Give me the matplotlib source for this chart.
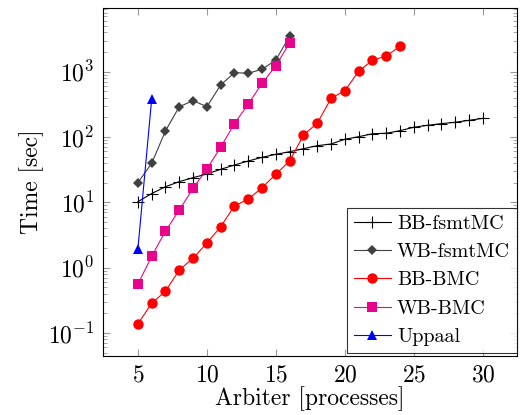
import matplotlib
matplotlib.use("Agg")
import matplotlib.pyplot as plt
from matplotlib.ticker import LogLocator, FixedLocator

plt.rcParams['font.family'] = 'serif'
plt.rcParams['font.serif'] = ['cmr10']
plt.rcParams['mathtext.fontset'] = 'cm'
plt.rcParams['axes.formatter.use_mathtext'] = True

# Data
bb_fsmt_x = list(range(5, 31))
bb_fsmt_y = [10.2, 13.6, 17.3, 20.7, 23.8, 27.1, 32.0, 37.2, 42.9, 48.8, 54.3, 59.5, 66.2,
             73.6, 78.1, 92.2, 101, 112, 114, 125, 141, 151, 160, 168, 180, 193]
wb_fsmt_x = list(range(5, 17))
wb_fsmt_y = [20, 39.5, 124, 291, 360, 291, 626, 966, 946, 1089, 1510, 3520]
bb_bmc_x = list(range(5, 25))
bb_bmc_y = [0.137, 0.284, 0.434, 0.92, 1.39, 2.38, 4.23, 8.8, 11.2, 16.7, 27, 43, 107, 163,
            390, 513, 1014, 1500, 1740, 2450]
wb_bmc_x = list(range(5, 17))
wb_bmc_y = [0.555, 1.49, 3.63, 7.6, 16.4, 32.3, 70, 160, 320, 664, 1236, 2780]
uppaal_x = [5, 6]
uppaal_y = [1.93, 382]

xticks = [5, 10, 15, 20, 25, 30]

fig = plt.figure(figsize=(5.27, 4.15), dpi=100)
ax = fig.add_axes([0.1954, 0.1422, 0.7856, 0.8385])

magenta = '#e8058c'
ax.plot(bb_fsmt_x, bb_fsmt_y, color='black', lw=0.8, marker='+', ms=8, mew=0.8, label='BB-fsmtMC')
ax.plot(wb_fsmt_x, wb_fsmt_y, color='#404040', lw=0.8, marker='D', ms=5, mew=0, label='WB-fsmtMC')
ax.plot(bb_bmc_x, bb_bmc_y, color='red', lw=0.8, marker='o', ms=7.5, mew=0, label='BB-BMC')
ax.plot(wb_bmc_x, wb_bmc_y, color=magenta, lw=0.8, marker='s', ms=7, mew=0, label='WB-BMC')
ax.plot(uppaal_x, uppaal_y, color='blue', lw=0.8, marker='^', ms=6.5, mew=0, label='Uppaal')

ax.set_yscale('log')
ax.set_xlim(2.47, 32.47)
ax.set_ylim(10**-1.354, 10**3.975)
ax.xaxis.set_major_locator(FixedLocator(xticks))
ax.yaxis.set_major_locator(LogLocator(base=10, numticks=20))
ax.yaxis.set_minor_locator(LogLocator(base=10, subs=range(2, 10), numticks=20))
ax.yaxis.set_minor_formatter(plt.NullFormatter())

ax.tick_params(which='both', direction='in', top=True, right=True, color='#999999')
ax.tick_params(which='major', length=5, width=0.8, labelsize=17, pad=6)
ax.tick_params(which='minor', length=3, width=0.6)
for s in ax.spines.values():
    s.set_linewidth(0.8)

ax.set_xlabel('Arbiter [processes]', fontsize=17, labelpad=0)
ax.set_ylabel('Time [sec]', fontsize=17, labelpad=3)

leg = ax.legend(loc='lower right', bbox_to_anchor=(1.0, 0.009), fontsize=14.5, frameon=True,
                fancybox=False, edgecolor='black', borderaxespad=0.0, handlelength=1.85,
                labelspacing=0.5, borderpad=0.35, handletextpad=0.3)
leg.get_frame().set_linewidth(0.8)

fig.savefig('out.png', dpi=100)
